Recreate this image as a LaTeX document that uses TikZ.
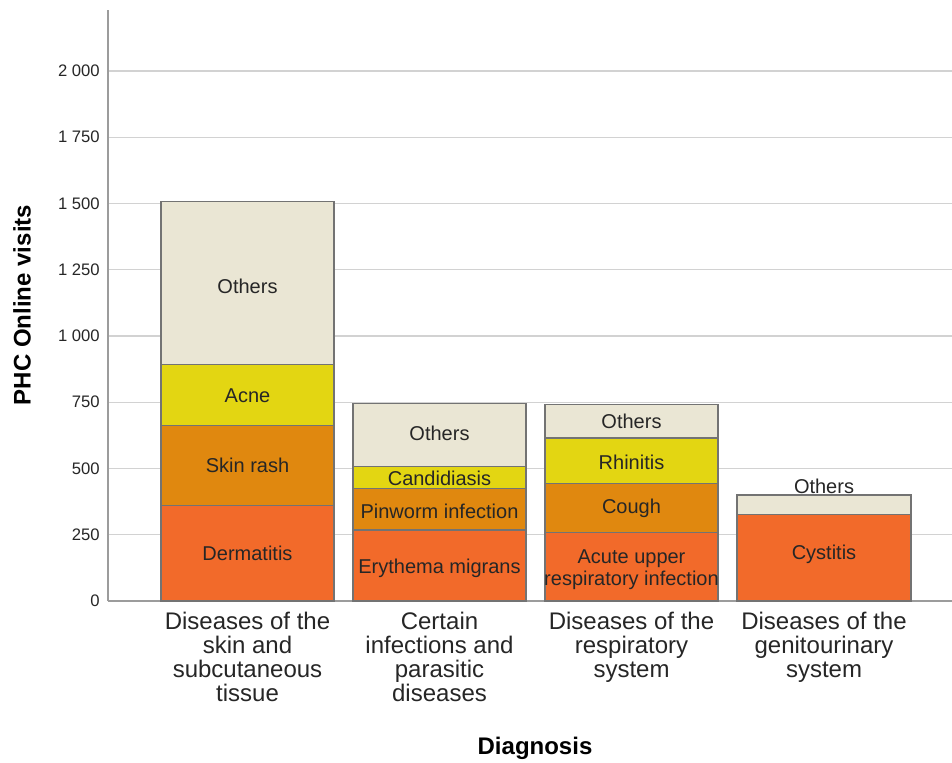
\documentclass[tikz,border=0pt]{standalone}
\usepackage{fontspec}
\setmainfont{Liberation Sans}
\definecolor{othc}{HTML}{EAE6D4}
\definecolor{ylwc}{HTML}{E3D612}
\definecolor{orgc}{HTML}{E0880F}
\definecolor{redc}{HTML}{F26A2A}
\definecolor{gridc}{HTML}{D2D2D2}
\definecolor{axc}{HTML}{9C9C9C}

\begin{document}
\begin{tikzpicture}[x=0.75pt, y=0.19875pt,
    seg/.style={draw=black!55, line width=0.8pt},
    lab/.style={font=\fontsize{15}{16}\selectfont, text=black!85, align=center, inner sep=0pt},
    tick/.style={anchor=east, font=\fontsize{12.5}{14}\selectfont, text=black!85, inner sep=0pt},
    cat/.style={anchor=north, align=center, font=\fontsize{18}{18}\selectfont, text=black!85, inner sep=0pt},
    ttl/.style={font=\bfseries\fontsize{18}{20}\selectfont, inner sep=0pt}]
    \useasboundingbox (0,-611) rectangle (952,2268);
    % grid and axes
    \foreach \v in {250,500,...,2000}
        \draw[gridc, line width=1.1pt] (108,\v) -- (952,\v);
    \draw[axc, line width=1.1pt] (108,0) -- (952,0);
    \draw[axc, line width=1.1pt] (108,0) -- (108,2230);
    \foreach \v/\t in {0/0, 250/250, 500/500, 750/750, 1000/1 000,
        1250/1 250, 1500/1 500, 1750/1 750, 2000/2 000}
        \node[tick] (tk\v) at (100,\v) {\t};
    % skin
    \draw[seg, fill=redc] (161,0) rectangle (334,362);
    \draw[seg, fill=orgc] (161,362) rectangle (334,664);
    \draw[seg, fill=ylwc] (161,664) rectangle (334,894);
    \draw[seg, fill=othc] (161,894) rectangle (334,1506);
    % infections
    \draw[seg, fill=redc] (353,0) rectangle (526,268);
    \draw[seg, fill=orgc] (353,268) rectangle (526,423);
    \draw[seg, fill=ylwc] (353,423) rectangle (526,506);
    \draw[seg, fill=othc] (353,506) rectangle (526,747);
    % respiratory
    \draw[seg, fill=redc] (545,0) rectangle (718,260);
    \draw[seg, fill=orgc] (545,260) rectangle (718,442);
    \draw[seg, fill=ylwc] (545,442) rectangle (718,615);
    \draw[seg, fill=othc] (545,615) rectangle (718,743);
    % genitourinary
    \draw[seg, fill=redc] (737,0) rectangle (911,325);
    \draw[seg, fill=othc] (737,325) rectangle (911,400);
    % segment labels
    \node[lab] (derm) at (247.5,181) {Dermatitis};
    \node[lab] (rash) at (247.5,513) {Skin rash};
    \node[lab] (acne) at (247.5,776) {Acne};
    \node[lab] (oth1) at (247.5,1188) {Others};
    \node[lab] (eryt) at (439.5,124) {Erythema migrans};
    \node[lab] (pinw) at (439.5,340) {Pinworm infection};
    \node[lab] (cand) at (439.5,464) {Candidiasis};
    \node[lab] (oth2) at (439.5,634) {Others};
    \node[lab, font=\fontsize{15}{16}\selectfont] (acut) at (631.5,118) {Acute upper\\respiratory infection};
    \node[lab] (cogh) at (631.5,350) {Cough};
    \node[lab] (rhin) at (631.5,522) {Rhinitis};
    \node[lab] (oth3) at (631.5,677) {Others};
    \node[lab] (cyst) at (824,177) {Cystitis};
    \node[lab] (oth4) at (824,434) {Others};
    % categories
    \node[cat] (c1) at (247.5,-40) {Diseases of the\\skin and\\subcutaneous\\tissue};
    \node[cat] (c2) at (439.5,-40) {Certain\\infections and\\parasitic\\diseases};
    \node[cat] (c3) at (631.5,-40) {Diseases of the\\respiratory\\system};
    \node[cat] (c4) at (824,-40) {Diseases of the\\genitourinary\\system};
    % titles
    \node[ttl] (xt) at (535,-555) {Diagnosis};
    \node[ttl, rotate=90] (yt) at (22,1117) {PHC Online visits};
\end{tikzpicture}
\end{document}
